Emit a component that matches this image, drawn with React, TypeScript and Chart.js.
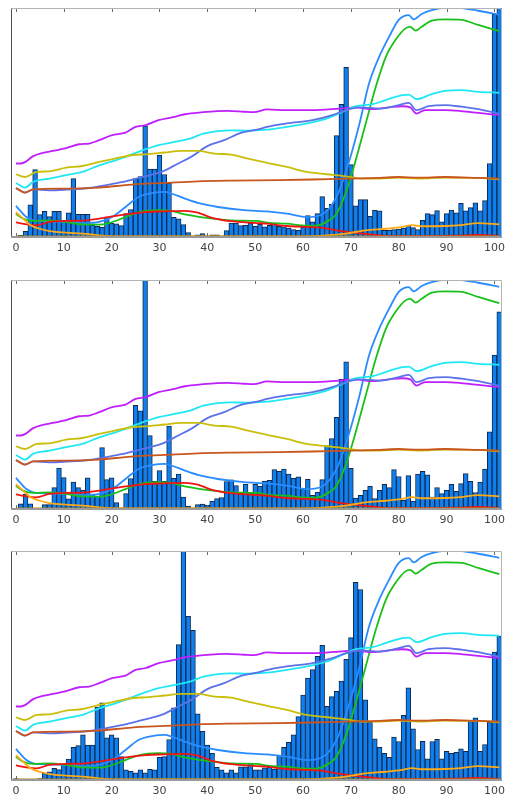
import React, { useEffect, useRef } from "react";
import { Chart, registerables } from "chart.js";

Chart.register(...registerables);

// ---------------- data ----------------
const BINS: number[] = Array.from({ length: 102 }, (_, i) => i);
const XTICKS = [0, 10, 20, 30, 40, 50, 60, 70, 80, 90, 100];

// bar heights, in % of panel height (values > 100 are clipped at the top)
const BARS_1 = [
  0, 0.7, 2.5, 14.1, 29.4, 9.8, 11.2, 8.9, 11.2, 11.2,
  7.3, 10.6, 25.5, 9.9, 9.9, 9.9, 5.1, 4.7, 4.2, 8.6,
  6.1, 5.8, 5.0, 10.2, 12.0, 25.5, 26.4, 48.5, 29.7, 29.7,
  35.7, 27.3, 23.6, 8.6, 7.9, 5.4, 1.9, 0, 1.0, 1.5,
  0, 1.0, 1.0, 0, 2.8, 6.1, 6.1, 5.0, 5.1, 6.1,
  4.7, 5.5, 4.4, 5.1, 5.5, 4.7, 4.4, 3.9, 3.2, 2.9,
  4.4, 9.3, 6.6, 10.2, 17.6, 12.5, 14.3, 44.3, 57.9, 74.1,
  31.6, 13.6, 16.3, 16.3, 9.0, 11.7, 11.4, 2.9, 2.9, 3.2,
  3.5, 3.9, 5.1, 4.1, 3.2, 7.3, 10.2, 9.8, 11.5, 6.6,
  10.2, 11.8, 10.6, 14.7, 11.4, 12.8, 14.9, 11.4, 15.9, 32.1,
  97.2, 105,
];
const BARS_2 = [
  0, 2.3, 6.5, 2.3, 0, 0, 1.9, 1.9, 9.3, 17.9,
  13.7, 4.4, 11.8, 9.3, 8.3, 13.6, 6.3, 5.5, 26.8, 12.8,
  13.6, 2.8, 0, 6.7, 13.3, 45.3, 42.9, 105, 32.1, 12.1,
  16.8, 12.1, 36.2, 13.4, 15.3, 5.2, 1.3, 0, 1.9, 2.2,
  1.7, 3.5, 4.5, 5.0, 12.0, 12.7, 10.2, 7.0, 10.8, 7.1,
  10.8, 9.9, 12.2, 12.5, 17.2, 16.5, 17.4, 15.2, 13.4, 14.0,
  8.9, 13.0, 6.0, 7.4, 12.8, 27.7, 30.8, 40.0, 56.6, 64.3,
  17.8, 4.8, 6.0, 8.2, 9.9, 4.5, 8.2, 10.8, 9.3, 17.2,
  14.2, 3.8, 14.6, 3.5, 15.3, 16.5, 14.9, 5.2, 9.3, 6.7,
  8.2, 10.8, 7.7, 11.1, 15.5, 12.1, 7.2, 11.8, 17.4, 33.7,
  67.2, 86.1,
];
const BARS_3 = [
  0.6, 0.3, 0.3, 0.3, 0.3, 0.6, 2.9, 3.6, 5.1, 4.5,
  7.0, 9.1, 14.3, 15.0, 19.7, 15.3, 15.3, 31.8, 33.7, 18.4,
  19.7, 18.4, 10.2, 4.4, 3.8, 3.1, 4.4, 3.1, 4.7, 4.4,
  9.9, 10.2, 17.7, 31.5, 59.1, 105, 71.5, 65.4, 28.9, 21.2,
  15.3, 11.7, 5.5, 4.4, 3.1, 4.4, 3.1, 5.8, 5.8, 7.4,
  4.4, 4.4, 5.3, 5.5, 4.8, 10.9, 14.3, 16.5, 19.7, 27.7,
  37.1, 44.5, 48.2, 54.0, 58.8, 32.2, 36.4, 38.7, 43.2, 52.7,
  62.2, 86.3, 83.2, 35.0, 25.2, 18.0, 14.3, 11.7, 9.9, 18.7,
  16.8, 28.2, 40.3, 22.3, 13.3, 16.9, 9.2, 16.8, 17.8, 9.2,
  12.5, 11.7, 12.1, 13.6, 12.5, 25.7, 27.2, 12.5, 15.5, 25.2,
  55.9, 62.8,
];

// curves: [x, y] points, y in % of panel height
const PURPLE: [number, number][] = [[0,32.1],[1,32.1],[2,32.8],[3.6,35.3],[5.6,36.7],[7.7,37.6],[10.5,38.8],[13.2,40.5],[15.3,40.8],[17.4,42.3],[20.1,44.5],[22.9,45.6],[25,48.1],[27,48.8],[29.8,51.0],[33.2,52.5],[35.3,53.6],[38.7,54.4],[44.2,55.1],[47.7,54.7],[49.7,54.5],[52.5,55.7],[56.6,55.4],[62,55.4],[67.6,56.1],[71,56.6],[74.5,55.8],[78,56.6],[80.7,57.1],[82.4,56.6],[83.7,53.9],[85.5,55.4],[89.7,55.4],[93,55.0],[96.6,54.2],[101,53.2]];
const CYAN: [number, number][] = [[0,23.6],[1.9,21.6],[3.6,24.1],[7,25.5],[10.5,27],[13.9,28.4],[17.4,31.3],[20.8,33.5],[22.9,35.0],[25.6,37.2],[29.8,40.1],[33.2,41.5],[35.9,42.7],[39.4,45.2],[44.9,46.6],[48.3,46.4],[52.5,46.9],[56.6,48.1],[60.8,49.6],[64.9,51.7],[68.3,54.7],[71,57.1],[74.5,58.0],[77.3,59.8],[80.7,62.0],[82.1,62.2],[83.7,60.2],[86.9,62.4],[89.7,63.8],[93.1,64.1],[96.6,63.4],[101,63.0]];
const ROYAL: [number, number][] = [[0,21.4],[1.9,19.4],[3.6,20.8],[7,20.4],[10.5,20.7],[15.3,21.4],[19.4,22.9],[22.9,24.3],[27,26.5],[30.4,28.4],[33.9,32.1],[36.6,35.0],[40.1,39.8],[43.5,42.3],[47,45.5],[50.4,46.9],[52.5,48.1],[56.6,49.6],[62,51.0],[66.1,53.2],[69,55.4],[71.8,56.6],[76,56.1],[80,57.6],[82.1,58.6],[83.7,55.4],[86.2,57.1],[89.7,57.6],[93.1,56.9],[96.6,55.8],[101,53.9]];
const OLIVE: [number, number][] = [[0,27.4],[1.9,26.2],[4.3,28.4],[7,28.7],[10.5,30.3],[13.9,31.0],[17.4,32.8],[20.8,34.3],[24.2,35.7],[27.7,36.2],[31.1,36.9],[34.6,37.6],[38,37.6],[41.5,36.4],[44.9,36.0],[48.3,34.3],[52.5,32.4],[56.6,30.6],[60.8,28.4],[64.9,27.4],[69,26.5],[72.5,25.5],[76,25.5],[80,25.9],[84.1,25.5],[89.7,25.9],[96.6,25.8],[101,25.2]];
const BROWN: [number, number][] = [[0,21.4],[1.9,19.4],[3.6,20.8],[10.5,21.1],[17.4,21.6],[24.2,22.9],[31.1,23.6],[38,24.3],[44.9,24.6],[55,24.8],[62,25.1],[69,25.5],[76,25.8],[80,26.2],[84,25.9],[89.7,26.2],[96.6,25.8],[101,25.5]];
const DODGER: [number, number][] = [[0,13.6],[0.8,11.7],[2.2,8.7],[3.6,7.3],[5.6,6.9],[10.5,6.6],[14.6,6.1],[17.4,6.6],[20.1,8.7],[22.9,13.1],[25.6,17.5],[28.4,19.2],[31.1,19.7],[32.5,19.0],[35.3,16.8],[38,14.9],[42.2,13.1],[47.7,11.7],[52.5,11.2],[56.6,10.2],[60.8,8.7],[63.6,9.5],[65.7,13.1],[67.6,20.4],[69.7,33.5],[71.8,49.6],[73.8,67.1],[75.9,78.7],[78,87.5],[80,94.8],[82.1,96.9],[83.1,95.0],[84.8,97.4],[86.9,99.1],[89.7,100.2],[93.1,100.0],[96.6,98.8],[101,97.0]];
const GREEN: [number, number][] = [[0,10.2],[1.5,8.0],[3.6,7.0],[7,7.3],[10.5,6.6],[13.9,5.5],[17.4,5.4],[19.4,6.1],[22.9,8.7],[25.6,10.8],[29.8,11.7],[32.5,11.4],[35.3,9.9],[39.4,8.5],[44.9,7.3],[50.4,7.0],[52.5,6.3],[56.6,5.8],[60.8,5.0],[62.8,5.0],[64.9,6.6],[67,10.2],[69,19.7],[71,33.5],[73.1,49.6],[75.2,65.6],[77.3,78.7],[79.3,86.0],[81.4,91.1],[82.4,91.8],[83.5,90.1],[84.8,91.8],[86.9,94.5],[89.7,95.0],[93.1,94.8],[96.6,92.6],[101,89.9]];
const RED: [number, number][] = [[0,6.4],[2.2,5.5],[4.3,5.1],[7,6.6],[10.5,7.0],[14.6,7.3],[17.4,8.0],[20.1,9.0],[24.2,10.2],[27,10.9],[31.1,11.2],[35.3,11.4],[38,10.6],[40.8,8.5],[44.9,6.9],[50.4,6.1],[52.5,5.8],[56.6,4.8],[60.8,4.4],[63.6,4.1],[67,2.9],[70.4,1.9],[74.5,1.0],[78.6,0.4],[86,0.4],[92.4,0.6],[96.6,0.9],[101,0.4]];
const ORANGE: [number, number][] = [[0,10.8],[1.5,8.0],[2.9,5.4],[5,3.6],[7,2.6],[10.5,1.9],[13.9,1.5],[17.4,0.7],[21.5,0.3],[40,0.3],[60,0.3],[64.9,0.7],[69,1.5],[73.1,2.9],[77.3,3.6],[80.7,4.4],[82.7,5.2],[84.8,4.7],[89.7,4.8],[93.1,5.2],[96.6,6.1],[101,5.5]];
const GOLD: [number, number][] = [[0,0.3],[101,0.3]];

const CURVES: { data: [number, number][]; color: string }[] = [
  { data: GOLD, color: "#b8860b" },
  { data: ORANGE, color: "#ffaa14" },
  { data: RED, color: "#f01414" },
  { data: BROWN, color: "#c8561e" },
  { data: OLIVE, color: "#c9bf0a" },
  { data: ROYAL, color: "#5b72e8" },
  { data: CYAN, color: "#1ee8f5" },
  { data: PURPLE, color: "#bf1fff" },
  { data: GREEN, color: "#18c018" },
  { data: DODGER, color: "#2a8cff" },
];

const PANELS = [BARS_1, BARS_2, BARS_3];
const PANEL_TOPS = [0, 272, 543];

// ---------------- chart ----------------
const framePlugin = {
  id: "frame",
  afterDatasetsDraw(chart: any) {
    const { ctx, chartArea: a, scales } = chart;
    ctx.save();
    ctx.lineWidth = 1;
    ctx.strokeStyle = "#6a6a6a";
    XTICKS.forEach((t) => {
      const px = Math.round(scales.x.getPixelForValue(t)) + 0.5;
      ctx.beginPath();
      ctx.moveTo(px, a.top);
      ctx.lineTo(px, a.top + 4);
      ctx.moveTo(px, a.bottom);
      ctx.lineTo(px, a.bottom - 4);
      ctx.stroke();
    });
    const L = Math.round(a.left) + 0.5;
    const R = Math.round(a.right) - 0.5;
    const T = Math.round(a.top) + 0.5;
    const B = Math.round(a.bottom);
    ctx.strokeStyle = "#b4b4b4";
    ctx.beginPath();
    ctx.moveTo(L, T);
    ctx.lineTo(R, T);
    ctx.lineTo(R, B);
    ctx.stroke();
    ctx.strokeStyle = "#505050";
    ctx.beginPath();
    ctx.moveTo(L, T);
    ctx.lineTo(L, B);
    ctx.stroke();
    ctx.strokeStyle = "#9a9a9a";
    ctx.lineWidth = 2;
    ctx.beginPath();
    ctx.moveTo(L - 0.5, B);
    ctx.lineTo(R + 0.5, B);
    ctx.stroke();
    ctx.restore();
  },
};

function Panel({ bars, top }: { bars: number[]; top: number }) {
  const ref = useRef<HTMLCanvasElement | null>(null);
  useEffect(() => {
    if (!ref.current) return;
    const datasets: any[] = CURVES.map((c, i) => ({
      type: "line",
      data: c.data.map(([x, y]) => ({ x, y })),
      borderColor: c.color,
      borderWidth: 1.8,
      pointRadius: 0,
      fill: false,
      cubicInterpolationMode: "monotone",
      order: 1 + i * 0.01,
    }));
    datasets.push({
      type: "bar",
      data: BINS.map((x, i) => ({ x, y: bars[i] })),
      backgroundColor: "#0d7ff0",
      borderColor: "#13294a",
      borderWidth: 1,
      barPercentage: 1,
      categoryPercentage: 1,
      order: 10,
    });
    const chart = new Chart(ref.current, {
      type: "bar",
      data: { datasets },
      options: {
        animation: false,
        responsive: false,
        maintainAspectRatio: false,
        events: [],
        layout: { padding: { top: 8, left: 11, right: 2, bottom: 0 } },
        plugins: { legend: { display: false }, tooltip: { enabled: false }, title: { display: false } },
        scales: {
          x: {
            type: "linear",
            min: -1.03,
            max: 101.65,
            offset: false,
            grid: { display: false, drawTicks: false },
            border: { display: false },
            afterBuildTicks: (scale: any) => {
              scale.ticks = XTICKS.map((value) => ({ value }));
            },
            afterFit: (scale: any) => {
              scale.height = 20;
            },
            ticks: {
              autoSkip: false,
              maxRotation: 0,
              padding: 5,
              color: "#444",
              font: { family: "DejaVu Sans", size: 11 },
              callback: (v: any) => String(v),
            },
          },
          y: {
            type: "linear",
            min: 0,
            max: 100,
            display: false,
          },
        },
      },
      plugins: [framePlugin],
    });
    return () => chart.destroy();
  }, [bars]);
  return (
    <canvas
      ref={ref}
      width={510}
      height={257}
      style={{ position: "absolute", left: 0, top, width: 510, height: 257 }}
    />
  );
}

export default function App() {
  return (
    <div style={{ position: "absolute", left: 0, top: 0, width: 510, height: 796, background: "#fff" }}>
      {PANELS.map((b, i) => (
        <Panel key={i} bars={b} top={PANEL_TOPS[i]} />
      ))}
    </div>
  );
}
